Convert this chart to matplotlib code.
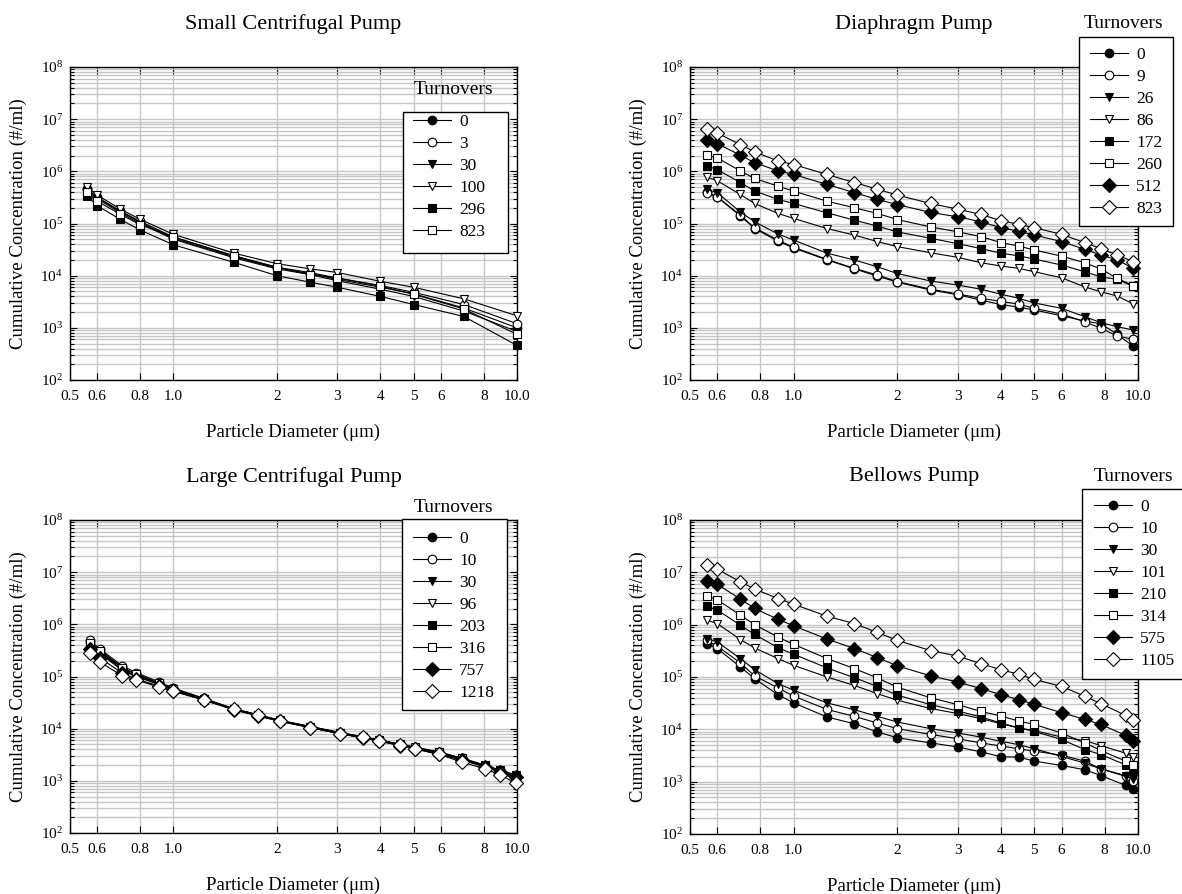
import matplotlib
matplotlib.use('Agg')
import matplotlib.pyplot as plt
from matplotlib.patches import Rectangle
from matplotlib.ticker import FixedLocator, NullLocator, LogLocator, NullFormatter

plt.rcParams['font.family'] = ['Liberation Serif', 'DejaVu Serif']
plt.rcParams['mathtext.fontset'] = 'custom'
plt.rcParams['mathtext.rm'] = 'Liberation Serif'
plt.rcParams['mathtext.it'] = 'Liberation Serif:italic'

# --- data ---
small_x = [0.56, 0.6, 0.7, 0.8, 1.0, 1.5, 2.0, 2.5, 3.0, 4.0, 5.0, 7.0, 10.0]
small_turns = ['0', '3', '30', '100', '296', '823']
small_conc = [
    [4.5e5, 3.1e5, 1.7e5, 1.05e5, 5.2e4, 2.3e4, 1.4e4, 1.1e4, 8.5e3, 6.0e3, 4.5e3, 2.4e3, 1.0e3],
    [4.6e5, 3.2e5, 1.75e5, 1.1e5, 5.5e4, 2.4e4, 1.45e4, 1.15e4, 9.0e3, 6.5e3, 4.8e3, 2.8e3, 1.2e3],
    [4.2e5, 3.0e5, 1.6e5, 1.0e5, 5.0e4, 2.2e4, 1.35e4, 1.05e4, 8.0e3, 5.5e3, 4.0e3, 2.1e3, 8.5e2],
    [5.0e5, 3.5e5, 1.9e5, 1.2e5, 6.2e4, 2.7e4, 1.7e4, 1.35e4, 1.15e4, 7.8e3, 6.0e3, 3.6e3, 1.7e3],
    [3.4e5, 2.2e5, 1.2e5, 7.5e4, 3.9e4, 1.8e4, 1.0e4, 7.5e3, 6.0e3, 4.0e3, 2.8e3, 1.65e3, 4.6e2],
    [4.0e5, 2.7e5, 1.5e5, 9.5e4, 5.5e4, 2.4e4, 1.45e4, 1.05e4, 9.0e3, 6.3e3, 4.4e3, 2.3e3, 7.5e2],
]

diaph_x = [0.56, 0.6, 0.7, 0.77, 0.9, 1.0, 1.25, 1.5, 1.75, 2.0, 2.5, 3.0, 3.5, 4.0, 4.5, 5.0,
           6.0, 7.0, 7.8, 8.7, 9.7]
diaph_turns = ['0', '9', '26', '86', '172', '260', '512', '823']
diaph_conc = [
    [4.0e5, 3.2e5, 1.4e5, 8.0e4, 4.6e4, 3.4e4, 2.0e4, 1.35e4, 9.8e3, 7.5e3, 5.3e3, 4.3e3, 3.4e3,
     2.8e3, 2.5e3, 2.2e3, 1.7e3, 1.35e3, 1.2e3, 7.5e2, 4.4e2],
    [3.8e5, 3.25e5, 1.45e5, 8.3e4, 4.8e4, 3.5e4, 2.05e4, 1.38e4, 1.03e4, 7.7e3, 5.5e3, 4.45e3, 3.7e3,
     3.2e3, 2.86e3, 2.36e3, 1.84e3, 1.31e3, 9.8e2, 7.0e2, 6.0e2],
    [4.5e5, 3.9e5, 1.67e5, 1.08e5, 6.3e4, 4.8e4, 2.7e4, 2.0e4, 1.48e4, 1.1e4, 7.9e3, 6.6e3, 5.5e3,
     4.4e3, 3.7e3, 3.0e3, 2.36e3, 1.64e3, 1.26e3, 1.05e3, 9.1e2],
    [7.8e5, 6.6e5, 3.6e5, 2.42e5, 1.56e5, 1.25e5, 8.0e4, 6.0e4, 4.5e4, 3.6e4, 2.75e4, 2.24e4, 1.77e4,
     1.53e4, 1.38e4, 1.19e4, 9.1e3, 6.1e3, 4.9e3, 4.07e3, 2.86e3],
    [1.27e6, 1.08e6, 6.1e5, 4.2e5, 2.9e5, 2.42e5, 1.6e5, 1.16e5, 8.9e4, 6.9e4, 5.2e4, 4.1e4, 3.3e4,
     2.7e4, 2.4e4, 2.08e4, 1.6e4, 1.19e4, 9.5e3, 8.5e3, 6.2e3],
    [2.04e6, 1.81e6, 1.02e6, 7.3e5, 5.2e5, 4.17e5, 2.68e5, 2.0e5, 1.56e5, 1.19e5, 8.6e4, 6.9e4, 5.6e4,
     4.3e4, 3.7e4, 3.1e4, 2.37e4, 1.77e4, 1.34e4, 8.9e3, 6.4e3],
    [3.9e6, 3.4e6, 2.04e6, 1.47e6, 1.02e6, 8.7e5, 5.6e5, 3.9e5, 2.9e5, 2.3e5, 1.63e5, 1.34e5, 1.08e5,
     8.3e4, 7.1e4, 6.0e4, 4.5e4, 3.2e4, 2.5e4, 2.0e4, 1.38e4],
    [6.6e6, 5.4e6, 3.26e6, 2.36e6, 1.58e6, 1.35e6, 8.7e5, 6.1e5, 4.55e5, 3.5e5, 2.42e5, 1.88e5, 1.49e5,
     1.13e5, 9.7e4, 8.3e4, 6.2e4, 4.3e4, 3.3e4, 2.5e4, 1.85e4],
]

large_x = [0.57, 0.61, 0.71, 0.78, 0.91, 1.0, 1.23, 1.5, 1.76, 2.04, 2.5, 3.06, 3.56, 3.96, 4.58,
           5.06, 5.94, 6.9, 8.07, 8.93, 9.93]
large_turns = ['0', '10', '30', '96', '203', '316', '757', '1218']
large_conc = [
    [4.6e5, 3.2e5, 1.5e5, 1.1e5, 7.5e4, 5.9e4, 3.7e4, 2.4e4, 1.85e4, 1.42e4, 1.1e4, 8.3e3, 6.8e3,
     6.0e3, 5.0e3, 4.3e3, 3.4e3, 2.7e3, 1.95e3, 1.6e3, 1.25e3],
    [5.1e5, 3.4e5, 1.6e5, 1.18e5, 7.8e4, 6.0e4, 3.8e4, 2.4e4, 1.85e4, 1.45e4, 1.1e4, 8.4e3, 7.0e3,
     6.1e3, 5.0e3, 4.4e3, 3.5e3, 2.7e3, 1.9e3, 1.5e3, 1.15e3],
    [4.4e5, 3.0e5, 1.45e5, 1.08e5, 7.3e4, 5.8e4, 3.7e4, 2.35e4, 1.8e4, 1.4e4, 1.05e4, 8.0e3, 6.7e3,
     5.8e3, 4.8e3, 4.2e3, 3.3e3, 2.6e3, 1.9e3, 1.55e3, 1.2e3],
    [4.2e5, 2.9e5, 1.35e5, 1.02e5, 7.0e4, 5.6e4, 3.6e4, 2.3e4, 1.8e4, 1.4e4, 1.08e4, 8.2e3, 6.9e3,
     6.0e3, 4.9e3, 4.3e3, 3.5e3, 2.6e3, 1.85e3, 1.45e3, 1.05e3],
    [4.0e5, 2.8e5, 1.3e5, 1.0e5, 7.0e4, 5.6e4, 3.6e4, 2.35e4, 1.8e4, 1.42e4, 1.07e4, 8.1e3, 6.8e3,
     5.9e3, 4.9e3, 4.3e3, 3.5e3, 2.75e3, 2.0e3, 1.6e3, 1.3e3],
    [4.3e5, 3.1e5, 1.45e5, 1.1e5, 7.4e4, 5.8e4, 3.7e4, 2.4e4, 1.85e4, 1.45e4, 1.1e4, 8.4e3, 7.0e3,
     6.1e3, 5.0e3, 4.4e3, 3.6e3, 2.7e3, 1.9e3, 1.5e3, 1.1e3],
    [3.3e5, 2.3e5, 1.15e5, 9.0e4, 6.5e4, 5.3e4, 3.5e4, 2.3e4, 1.75e4, 1.38e4, 1.05e4, 8.0e3, 6.6e3,
     5.8e3, 4.7e3, 4.1e3, 3.2e3, 2.5e3, 1.85e3, 1.5e3, 1.2e3],
    [2.8e5, 1.9e5, 1.03e5, 8.5e4, 6.3e4, 5.2e4, 3.5e4, 2.35e4, 1.8e4, 1.4e4, 1.05e4, 8.0e3, 6.8e3,
     5.8e3, 4.8e3, 4.1e3, 3.2e3, 2.3e3, 1.7e3, 1.3e3, 9.0e2],
]

bellows_x = [0.56, 0.6, 0.7, 0.77, 0.9, 1.0, 1.25, 1.5, 1.75, 2.0, 2.5, 3.0, 3.5, 4.0, 4.5, 5.0,
             6.0, 7.0, 7.8, 9.2, 9.7]
bellows_turns = ['0', '10', '30', '101', '210', '314', '575', '1105']
bellows_conc = [
    [4.35e5, 3.5e5, 1.56e5, 9.3e4, 4.6e4, 3.2e4, 1.72e4, 1.28e4, 8.9e3, 6.9e3, 5.5e3, 4.6e3, 3.7e3,
     3.0e3, 2.95e3, 2.47e3, 2.04e3, 1.69e3, 1.31e3, 8.5e2, 7.1e2],
    [5.0e5, 3.9e5, 1.86e5, 1.05e5, 6.2e4, 4.3e4, 2.4e4, 1.77e4, 1.32e4, 1.03e4, 8.0e3, 6.6e3, 5.5e3,
     4.8e3, 4.25e3, 3.84e3, 3.2e3, 2.47e3, 1.76e3, 1.31e3, 1.05e3],
    [5.4e5, 4.7e5, 2.25e5, 1.38e5, 7.5e4, 5.6e4, 3.2e4, 2.37e4, 1.77e4, 1.38e4, 1.03e4, 8.5e3, 7.1e3,
     5.9e3, 5.1e3, 4.25e3, 3.03e3, 2.26e3, 1.76e3, 1.26e3, 1.13e3],
    [1.22e6, 1.05e6, 5.2e5, 3.6e5, 2.25e5, 1.67e5, 1.0e5, 6.9e4, 4.8e4, 3.6e4, 2.5e4, 2.0e4, 1.6e4,
     1.28e4, 1.06e4, 9.5e3, 7.1e3, 6.1e3, 4.9e3, 3.5e3, 2.95e3],
    [2.26e6, 1.9e6, 9.8e5, 6.5e5, 3.65e5, 2.72e5, 1.49e5, 9.7e4, 6.6e4, 4.5e4, 2.96e4, 2.24e4, 1.72e4,
     1.32e4, 1.07e4, 9.1e3, 6.4e3, 4.1e3, 3.3e3, 2.1e3, 1.7e3],
    [3.5e6, 3.0e6, 1.52e6, 1.0e6, 5.8e5, 4.2e5, 2.25e5, 1.45e5, 9.6e4, 6.4e4, 4.0e4, 2.96e4, 2.2e4,
     1.8e4, 1.44e4, 1.24e4, 8.5e3, 5.5e3, 3.95e3, 2.47e3, 2.04e3],
    [6.8e6, 5.9e6, 3.1e6, 2.04e6, 1.27e6, 9.5e5, 5.3e5, 3.5e5, 2.35e5, 1.63e5, 1.05e5, 8.0e4, 6.0e4,
     4.6e4, 3.7e4, 3.0e4, 2.08e4, 1.55e4, 1.24e4, 7.7e3, 6.1e3],
    [1.38e7, 1.15e7, 6.6e6, 4.8e6, 3.16e6, 2.46e6, 1.45e6, 1.05e6, 7.1e5, 5.0e5, 3.2e5, 2.5e5, 1.8e5,
     1.38e5, 1.13e5, 9.0e4, 6.6e4, 4.3e4, 3.1e4, 1.85e4, 1.48e4],
]

x_ticks = [0.5, 0.6, 0.8, 1.0, 2, 3, 4, 5, 6, 8, 10]
x_ticklabels = ['0.5', '0.6', '0.8', '1.0', '2', '3', '4', '5', '6', '8', '10.0']
y_exps = [2, 3, 4, 5, 6, 7, 8]

styles = [('o', 'black'), ('o', 'white'), ('v', 'black'), ('v', 'white'),
          ('s', 'black'), ('s', 'white'), ('D', 'black'), ('D', 'white')]

W, H = 1182, 894
fig = plt.figure(figsize=(W / 100, H / 100), dpi=100)


def add_ax(l, t, r, b):
    return fig.add_axes([l / W, 1 - b / H, (r - l) / W, (b - t) / H])


def panel(ax, x, turns, conc, title, box, rows_mid, title_xy):
    for lab, y, (m, fc) in zip(turns, conc, styles):
        ax.plot(x, y, marker=m, color='black', lw=0.8, ms=6.8 if m == 'D' else 6.2,
                mfc=fc, mec='black', mew=0.8, label=lab, clip_on=False, zorder=3)
    ax.set_xscale('log')
    ax.set_yscale('log')
    ax.set_xlim(0.5, 10)
    ax.set_ylim(1e2, 1e8)
    ax.xaxis.set_major_locator(FixedLocator(x_ticks))
    ax.set_xticklabels(x_ticklabels)
    ax.xaxis.set_minor_locator(NullLocator())
    ax.yaxis.set_major_locator(FixedLocator([10.0 ** e for e in y_exps]))
    ax.set_yticklabels(['$10^{%d}$' % e for e in y_exps])
    ax.yaxis.set_minor_locator(LogLocator(base=10, subs=range(2, 10)))
    ax.yaxis.set_minor_formatter(NullFormatter())
    ax.set_axisbelow(True)
    ax.grid(True, which='major', axis='x', color='#c6c6c6', lw=1.0)
    ax.grid(True, which='both', axis='y', color='#c6c6c6', lw=1.0)
    ax.tick_params(which='both', direction='in', top=True, right=True, width=0.8,
                   labelsize=11, color='black')
    ax.tick_params(which='major', length=5)
    ax.tick_params(which='minor', length=3)
    ax.tick_params(axis='x', pad=7)
    ax.tick_params(axis='y', pad=5)
    for s in ax.spines.values():
        s.set_linewidth(1.0)

    bb = ax.get_position()
    cx = (bb.x0 + bb.x1) / 2
    fig.text(cx, bb.y1 + 43 / H, title, ha='center', va='center', fontsize=16)
    fig.text(cx, bb.y0 - 52 / H, u'Particle Diameter (\u03bcm)', ha='center', va='center',
             fontsize=13.5)
    fig.text(bb.x0 - 52 / W, (bb.y0 + bb.y1) / 2, 'Cumulative Concentration (#/ml)',
             ha='center', va='center', rotation=90, fontsize=13.5)

    # legend frame drawn separately (title sits above the box in the original)
    l, t, r, b = box
    fig.add_artist(Rectangle((l / W, 1 - b / H), (r - l) / W, (b - t) / H,
                             transform=fig.transFigure, facecolor='white',
                             edgecolor='black', lw=1.0, zorder=4))
    handles, labels = ax.get_legend_handles_labels()
    leg = fig.legend(handles, labels, loc='center left',
                     bbox_to_anchor=(rows_mid[0] / W, 1 - rows_mid[1] / H),
                     bbox_transform=fig.transFigure, borderaxespad=0, borderpad=0,
                     fontsize=12.5, frameon=False, handlelength=2.2, handletextpad=0.45,
                     labelspacing=0.33, markerscale=1.0)
    leg.set_zorder(5)
    fig.text(title_xy[0] / W, 1 - title_xy[1] / H, 'Turnovers', ha='center',
             va='center', fontsize=14)


ax1 = add_ax(70, 67, 517, 380)
ax2 = add_ax(690, 67, 1138, 380)
ax3 = add_ax(70, 520, 517, 833)
ax4 = add_ax(690, 520, 1138, 834)

panel(ax1, small_x, small_turns, small_conc, 'Small Centrifugal Pump',
      (403, 112, 508, 253), (413, 177), (453, 89))
panel(ax2, diaph_x, diaph_turns, diaph_conc, 'Diaphragm Pump',
      (1079, 37, 1173, 226), (1090, 132), (1124, 23))
panel(ax3, large_x, large_turns, large_conc, 'Large Centrifugal Pump',
      (402, 519, 507, 710), (413, 616), (453, 507))
panel(ax4, bellows_x, bellows_turns, bellows_conc, 'Bellows Pump',
      (1082, 489, 1190, 679), (1094, 584), (1133, 476))

fig.savefig('out.png', dpi=100)
